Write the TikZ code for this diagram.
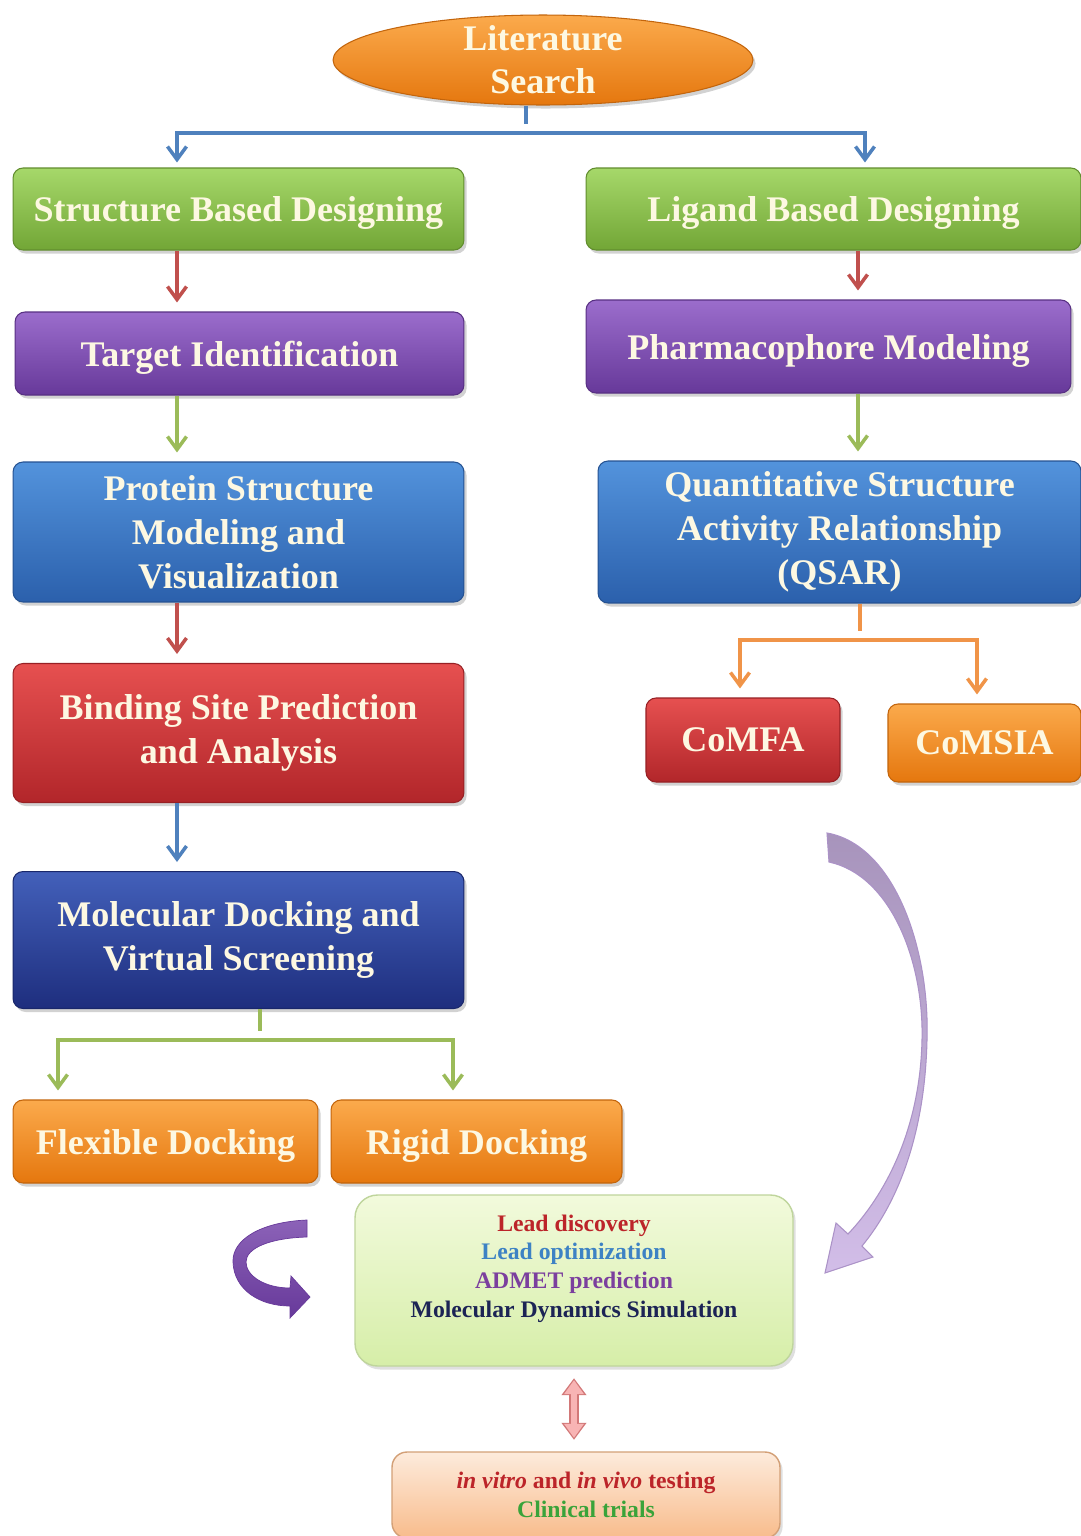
\documentclass[tikz,border=0pt]{standalone}
\usepackage{fontspec}
\setmainfont{Liberation Serif}
\usepackage{xcolor}
\usepackage{tikz}
\usetikzlibrary{shapes.geometric, arrows.meta, positioning, shadows}

\definecolor{cream}{HTML}{FDF8E2}
\definecolor{greenT}{HTML}{A6D86A}
\definecolor{greenB}{HTML}{72A636}
\definecolor{purpleT}{HTML}{9B6DCC}
\definecolor{purpleB}{HTML}{67399A}
\definecolor{blueT}{HTML}{5393DC}
\definecolor{blueB}{HTML}{2B60AC}
\definecolor{redT}{HTML}{E65050}
\definecolor{redB}{HTML}{B2262A}
\definecolor{navyT}{HTML}{4360BA}
\definecolor{navyB}{HTML}{1E2E7E}
\definecolor{orangeT}{HTML}{FBAA4C}
\definecolor{orangeB}{HTML}{E5770E}
\definecolor{lineblue}{HTML}{4F81BD}
\definecolor{linered}{HTML}{C0504D}
\definecolor{linegreen}{HTML}{9BBB59}
\definecolor{lineorange}{HTML}{F09448}
\definecolor{leadT}{HTML}{F2FADC}
\definecolor{leadB}{HTML}{D6EEA8}
\definecolor{leadD}{HTML}{BFD59C}
\definecolor{peachT}{HTML}{FDEBDC}
\definecolor{peachB}{HTML}{F8BC8C}
\definecolor{txtred}{HTML}{BC2429}
\definecolor{txtblue}{HTML}{3D82C4}
\definecolor{txtpurple}{HTML}{7B3F9E}
\definecolor{txtnavy}{HTML}{1C2455}
\definecolor{txtgreen}{HTML}{3AA33A}
\definecolor{pinkL}{HTML}{F8B4B4}
\definecolor{pinkD}{HTML}{D27878}

\tikzstyle{arrow} = [line width=2pt, -{Straight Barb[length=2.6mm,width=3.8mm]}, shorten >=1.8mm]

\begin{document}
\begin{tikzpicture}[x=0.02cm, y=-0.02cm]
    \tikzstyle{box}=[rectangle, rounded corners=0.2cm, align=center, text=cream, line width=0.6pt,
        font=\fontsize{20.5}{25}\selectfont\bfseries, inner sep=2pt,
        drop shadow={shadow xshift=1.5pt, shadow yshift=-2pt, opacity=0.35}]
    \tikzstyle{oneline}=[text depth=0pt]
    \tikzstyle{greenbox}=[box, top color=greenT, bottom color=greenB, draw=greenB!85!black]
    \tikzstyle{purplebox}=[box, top color=purpleT, bottom color=purpleB, draw=purpleB!85!black]
    \tikzstyle{bluebox}=[box, top color=blueT, bottom color=blueB, draw=blueB!85!black]
    \tikzstyle{redbox}=[box, top color=redT, bottom color=redB, draw=redB!85!black]
    \tikzstyle{navybox}=[box, top color=navyT, bottom color=navyB, draw=navyB!85!black]
    \tikzstyle{orangebox}=[box, top color=orangeT, bottom color=orangeB, draw=orangeB!85!black]
    \tikzstyle{oval}=[ellipse, top color=orangeT, bottom color=orangeB, draw=orangeB!85!black, line width=0.6pt,
        text=cream, align=center, font=\fontsize{20.5}{24.4}\selectfont\bfseries, inner xsep=0pt, inner ysep=-8pt,
        minimum width=8.4cm, minimum height=1.8cm,
        drop shadow={shadow xshift=1.5pt, shadow yshift=-2pt, opacity=0.35}]
    \tikzstyle{lightbox}=[rectangle, rounded corners=0.45cm, align=center, line width=0.8pt,
        font=\fontsize{13.5}{16.4}\selectfont\bfseries,
        drop shadow={shadow xshift=1.5pt, shadow yshift=-2pt, opacity=0.25}]

    \path[use as bounding box, fill=white] (0,0) rectangle (1081,1536);

    % top
    \node[oval] (lit) at (543,60) {Literature\\Search};

    % structure based column
    \node[greenbox, oneline, minimum width=9.02cm, minimum height=1.64cm] (sbd) at (238.5,209) {Structure Based Designing};
    \node[purplebox, oneline, minimum width=8.98cm, minimum height=1.66cm] (target) at (239.5,353.5) {Target Identification};
    \node[bluebox, minimum width=9.02cm, minimum height=2.8cm] (protein) at (238.5,532) {Protein Structure\\Modeling and\\Visualization};
    \node[redbox, minimum width=9.02cm, minimum height=2.78cm] (binding) at (238.5,733) {Binding Site Prediction\\and Analysis};
    \node[navybox, minimum width=9.02cm, minimum height=2.74cm] (mol) at (238.5,940) {Molecular Docking and\\Virtual Screening};
    \node[orangebox, oneline, minimum width=6.1cm, minimum height=1.66cm] (flex) at (165.5,1141.5) {Flexible Docking};
    \node[orangebox, oneline, minimum width=5.82cm, minimum height=1.66cm] (rigid) at (476.5,1141.5) {Rigid Docking};

    % ligand based column
    \node[greenbox, oneline, minimum width=9.9cm, minimum height=1.64cm] (lbd) at (833.5,209) {Ligand Based Designing};
    \node[purplebox, oneline, minimum width=9.7cm, minimum height=1.86cm] (pharma) at (828.5,346.5) {Pharmacophore Modeling};
    \node[bluebox, minimum width=9.66cm, minimum height=2.84cm] (qsar) at (839.5,532) {Quantitative Structure\\Activity Relationship\\(QSAR)};
    \node[redbox, oneline, minimum width=3.88cm, minimum height=1.68cm] (comfa) at (743,740) {CoMFA};
    \node[orangebox, oneline, minimum width=3.86cm, minimum height=1.56cm] (comsia) at (984.5,743) {CoMSIA};

    % bottom
    \node[lightbox, top color=leadT, bottom color=leadB, draw=leadD, minimum width=8.76cm, minimum height=3.42cm] (lead) at (574,1280.5)
        {\color{txtred}Lead discovery\\\color{txtblue}Lead optimization\\\color{txtpurple}ADMET prediction\\\color{txtnavy}Molecular Dynamics Simulation\\\mbox{}};
    \node[lightbox, rounded corners=0.3cm, top color=peachT, bottom color=peachB, draw=peachB!85!black, minimum width=7.76cm, minimum height=1.72cm] (testing) at (586,1495)
        {\color{txtred}\textit{in vitro} and \textit{in vivo} testing\\\color{txtgreen}Clinical trials};

    % columns of the arrows
    \coordinate (split) at (526,133);
    \coordinate (lcol) at (177,0);
    \coordinate (rcol) at (865,0);
    \coordinate (qcol) at (858,0);
    \coordinate (split2) at (860,640);
    \coordinate (fcol) at (740,0);
    \coordinate (scol) at (977,0);
    \coordinate (split3) at (260,1040);
    \coordinate (dcol) at (58,0);
    \coordinate (ecol) at (453,0);

    \draw[arrow, lineblue, -] (lit.south -| split) -- (split);
    \draw[arrow, lineblue, shorten >=1mm] (split) -| (sbd.north -| lcol);
    \draw[arrow, lineblue, shorten >=1mm] (split) -| (lbd.north -| rcol);

    \draw[arrow, linered] (sbd.south -| lcol) -- (target.north -| lcol);
    \draw[arrow, linegreen] (target.south -| lcol) -- (protein.north -| lcol);
    \draw[arrow, linered] (protein.south -| lcol) -- (binding.north -| lcol);
    \draw[arrow, lineblue] (binding.south -| lcol) -- (mol.north -| lcol);

    \draw[arrow, linered] (lbd.south -| qcol) -- (pharma.north -| qcol);
    \draw[arrow, linegreen] (pharma.south -| qcol) -- (qsar.north -| qcol);

    \draw[arrow, lineorange, -] (qsar.south -| split2) -- (split2);
    \draw[arrow, lineorange] (split2) -| (comfa.north -| fcol);
    \draw[arrow, lineorange] (split2) -| (comsia.north -| scol);

    \draw[arrow, linegreen, -] (mol.south -| split3) -- (split3);
    \draw[arrow, linegreen] (split3) -| (flex.north -| dcol);
    \draw[arrow, linegreen] (split3) -| (rigid.north -| ecol);

    % double arrow
    \draw[line width=1.9mm, pinkD, {Triangle[length=3.4mm,width=4.8mm]}-{Triangle[length=3.4mm,width=4.8mm]}, shorten <=2.3mm, shorten >=2.3mm] (lead.south) -- (testing.north -| lead.south);
    \draw[line width=1.2mm, pinkL, {Triangle[length=2.8mm,width=3.8mm]}-{Triangle[length=2.8mm,width=3.8mm]}, shorten <=2.7mm, shorten >=2.7mm] (lead.south) -- (testing.north -| lead.south);

    % curved arrows
    \shade[top color=black!30!purpleT!60!white, bottom color=purpleT!45!white, draw=purpleB!55!white, line width=0.6pt]
        (827,833) .. controls (895,845) and (930,950) .. (927,1040)
        .. controls (925,1130) and (900,1200) .. (862,1246) -- (873,1257) -- (825,1273) -- (836,1223) -- (848,1234)
        .. controls (885,1195) and (920,1130) .. (922,1040)
        .. controls (924,960) and (890,875) .. (829,862) -- cycle;
    \shade[top color=purpleT!90!black, bottom color=purpleB, draw=purpleB, line width=0.4pt]
        (307,1220) .. controls (260,1222) and (232,1240) .. (233,1262)
        .. controls (234,1290) and (260,1306) .. (290,1306) -- (290,1318) -- (310,1297) -- (291,1276) -- (290,1288)
        .. controls (265,1288) and (246,1276) .. (246,1262)
        .. controls (246,1248) and (270,1238) .. (307,1237) -- cycle;
\end{tikzpicture}
\end{document}
